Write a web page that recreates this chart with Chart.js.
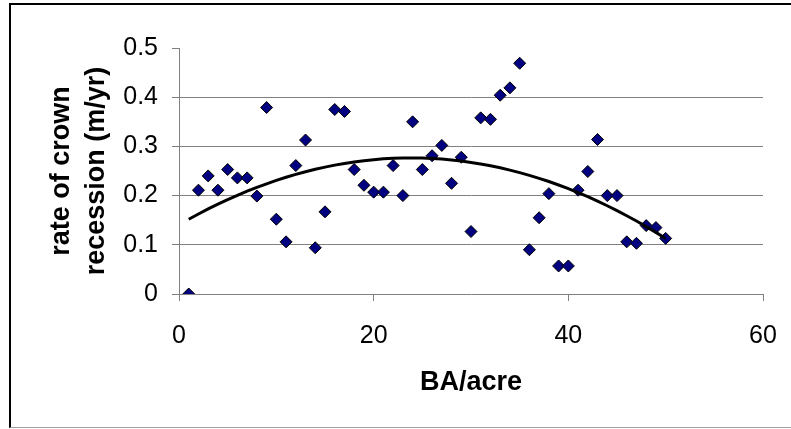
<!DOCTYPE html>
<html>
<head>
<meta charset="utf-8">
<script src="https://cdn.jsdelivr.net/npm/chart.js@4/dist/chart.umd.min.js"></script>
<style>
  html, body { margin: 0; padding: 0; background: #fff; }
  #wrap { position: relative; width: 791px; height: 429px; }
  #frame {
    position: absolute; left: 9px; top: 3px; width: 780px; height: 422px;
    border-top: 2px solid #000; border-left: 2px solid #000; border-bottom: 1px solid #a0a0a0;
    pointer-events: none;
  }
</style>
</head>
<body>
<div id="wrap">
  <canvas id="c" width="791" height="429"></canvas>
  <div id="frame"></div>
</div>
<script>
// Basal area per acre for each plot
const baArea = [1, 2, 3, 4, 5, 6, 7, 8, 9, 10,
  11, 12, 13, 14, 15, 16, 17, 18, 19, 20,
  21, 22, 23, 24, 25, 26, 27, 28, 29, 30,
  31, 32, 33, 34, 35, 36, 37, 38, 39, 40,
  41, 42, 43, 44, 45, 46, 47, 48, 49, 50];

// Rate of crown recession (m/yr)
const recessionRate = [0, 0.211, 0.240, 0.211, 0.253, 0.236, 0.236, 0.199, 0.379, 0.152,
  0.106, 0.261, 0.313, 0.094, 0.167, 0.375, 0.371, 0.253, 0.221, 0.207,
  0.207, 0.261, 0.200, 0.350, 0.253, 0.281, 0.302, 0.225, 0.278, 0.127,
  0.358, 0.355, 0.404, 0.419, 0.469, 0.090, 0.155, 0.204, 0.057, 0.057,
  0.211, 0.249, 0.314, 0.200, 0.200, 0.106, 0.103, 0.139, 0.135, 0.113];

const xTickValues = [0, 20, 40, 60];
const yTickValues = [0, 0.1, 0.2, 0.3, 0.4, 0.5];

// Second-order polynomial trendline (least squares) over the observed data
function quadFit(xs, ys) {
  let s = [0, 0, 0, 0, 0], t = [0, 0, 0];
  for (let i = 0; i < xs.length; i++) {
    const x = xs[i], y = ys[i];
    let p = 1;
    for (let k = 0; k < 5; k++) { s[k] += p; p *= x; }
    t[0] += y; t[1] += y * x; t[2] += y * x * x;
  }
  const A = [[s[0], s[1], s[2], t[0]], [s[1], s[2], s[3], t[1]], [s[2], s[3], s[4], t[2]]];
  for (let i = 0; i < 3; i++) {
    for (let j = i + 1; j < 3; j++) {
      const f = A[j][i] / A[i][i];
      for (let k = i; k < 4; k++) A[j][k] -= f * A[i][k];
    }
  }
  const c = [0, 0, 0];
  for (let i = 2; i >= 0; i--) {
    let v = A[i][3];
    for (let k = i + 1; k < 3; k++) v -= A[i][k] * c[k];
    c[i] = v / A[i][i];
  }
  return c;
}
const coef = quadFit(baArea, recessionRate);
const trend = baArea.map(x => ({ x: x, y: coef[0] + coef[1] * x + coef[2] * x * x }));

const points = baArea.map((x, i) => ({ x: x, y: recessionRate[i] }));
const axisGrey = '#808080';
const fontFamily = '"Liberation Sans", Arial, sans-serif';

new Chart(document.getElementById('c'), {
  type: 'scatter',
  data: {
    datasets: [
      {
        label: 'trend',
        data: trend,
        showLine: true,
        borderColor: '#000',
        borderWidth: 3,
        pointRadius: 0,
        fill: false,
        order: -1
      },
      {
        label: 'rate',
        data: points,
        pointStyle: 'rectRot',
        pointRadius: 6,
        backgroundColor: '#000080',
        borderColor: '#000',
        borderWidth: 1
      }
    ]
  },
  options: {
    responsive: false,
    animation: false,
    devicePixelRatio: 1,
    layout: { padding: { left: 0, top: 48, right: 28, bottom: 0 } },
    plugins: { legend: { display: false }, tooltip: { enabled: false } },
    scales: {
      x: {
        type: 'linear',
        min: 0, max: 60,
        afterFit: s => { s.height = 135; s.paddingLeft = 0; s.paddingRight = 0; },
        afterBuildTicks: s => { s.ticks = xTickValues.map(v => ({ value: v })); },
        border: { display: true, color: axisGrey, width: 1 },
        grid: { drawOnChartArea: false, drawTicks: true, tickLength: 7, tickColor: axisGrey, color: axisGrey },
        ticks: {
          color: '#000', padding: 20,
          font: { family: fontFamily, size: 25 },
          callback: v => String(v)
        },
        title: {
          display: true, text: 'BA/acre', color: '#000',
          font: { family: fontFamily, size: 27, weight: 'bold' },
          padding: { top: 0, bottom: 30 }
        }
      },
      y: {
        type: 'linear',
        min: 0, max: 0.5,
        afterFit: s => { s.width = 179; },
        afterBuildTicks: s => { s.ticks = yTickValues.map(v => ({ value: v })); },
        border: { display: true, color: axisGrey, width: 1 },
        grid: {
          drawTicks: true, tickLength: 7, tickColor: axisGrey, lineWidth: 1,
          color: ctx => (ctx.tick && ctx.tick.value > 0 && ctx.tick.value < 0.5) ? axisGrey : 'rgba(0,0,0,0)'
        },
        ticks: {
          color: '#000', padding: 14,
          font: { family: fontFamily, size: 25 },
          callback: v => String(v)
        },
        title: {
          display: true, text: ['rate of crown', 'recession (m/yr)'], color: '#000',
          font: { family: fontFamily, size: 27, weight: 'bold', lineHeight: 1.3 },
          padding: { top: 44, bottom: 0 }
        }
      }
    }
  }
});
</script>
</body>
</html>
